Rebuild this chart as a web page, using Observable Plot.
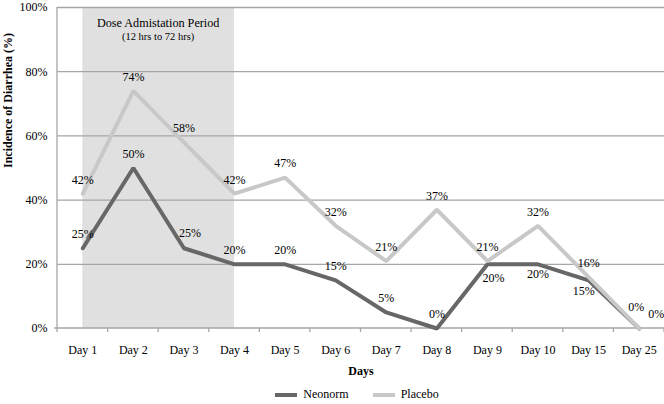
<!DOCTYPE html>
<html><head><meta charset="utf-8">
<script src="https://cdn.jsdelivr.net/npm/d3@7"></script>
<script src="https://cdn.jsdelivr.net/npm/@observablehq/plot@0.6"></script>
<style>
body{margin:0;background:#fff;font-family:"Liberation Serif",serif}
#legend{display:flex;justify-content:center;align-items:center;height:19px;font-size:12px;color:#000;padding-left:50px}
.item{display:flex;align-items:center}
.sw{display:inline-block;width:22px;height:4px;margin-right:6px}
</style></head><body>
<div id="chart"></div><div id="legend"></div>
<script>
const days = ["Day 1","Day 2","Day 3","Day 4","Day 5","Day 6","Day 7","Day 8","Day 9","Day 10","Day 15","Day 25"];
const neonorm = [25,50,25,20,20,15,5,0,20,20,15,0];
const placebo = [42,74,58,42,47,32,21,37,21,32,16,0];
const yTicks = [0,20,40,60,80,100];
const gridValues = [20,40,60,80,100];
const seriesNames = ["Neonorm","Placebo"];
const shadeDays = ["Day 1","Day 4"];
const shadeTitle = "Dose Admistation Period";
const shadeSubtitle = "(12 hrs to 72 hrs)";
const yTitle = "Incidence of Diarrhea (%)";
const xTitle = "Days";

const colors = {Neonorm:"#676767", Placebo:"#c8c8c8"};
const gridColor = "#a6a6a6";
const font = "Liberation Serif";

const rows = days.map((d,i)=>({day:d, i, Neonorm:neonorm[i], Placebo:placebo[i]}));
const shade = shadeDays.map(d=>({day:d, lo:yTicks[0], hi:yTicks[yTicks.length-1]}));

// label placement per series (index -> [dx, dy])
const nOff = i => i===2?[6,-15]: (i===8?[6,14]: i===9?[0,10]: i===10?[-5,11]: i===11?[17,-14]:[0,-14]);
const pOff = i => i===11?[-3,-21]:[0,-14];

function labelMarks(series, off){
  const groups = new Map();
  rows.forEach(r=>{const k=off(r.i).join(","); if(!groups.has(k)) groups.set(k,[]); groups.get(k).push(r);});
  return [...groups].map(([k,arr])=>{
    const [dx,dy]=k.split(",").map(Number);
    return Plot.text(arr,{x:"day",y:series,text:d=>d[series]+"%",dx,dy,fontSize:12,fill:"#000",fontFamily:font});
  });
}

function axisDecor(index, scales, values, dims){
  const x = scales.x, y = scales.y;
  const bw = x.bandwidth ? x.bandwidth() : (dims.width-dims.marginLeft-dims.marginRight)/days.length;
  const g = d3.create("svg:g").attr("stroke", gridColor).attr("stroke-width",1.3);
  const xs = days.map(d=>x(d)).concat([x(days[days.length-1])+bw]);
  const y0 = y(yTicks[0]);
  xs.forEach((px,k)=>{
    g.append("line").attr("x1",px).attr("x2",px).attr("y1",k===0?y(yTicks[yTicks.length-1]):y0).attr("y2",y0+4);
  });
  g.append("line").attr("x1",xs[0]-3).attr("x2",xs[xs.length-1]).attr("y1",y0).attr("y2",y0);
  return g.node();
}

function shadeText(index, scales, values, dims){
  const x = scales.x, y = scales.y;
  const bw = x.bandwidth ? x.bandwidth() : 0;
  const cx = (x(shadeDays[0]) + x(shadeDays[1]))/2 + bw/2;
  const top = y(yTicks[yTicks.length-1]);
  const g = d3.create("svg:g").attr("text-anchor","middle").attr("font-family",font).attr("fill","#000");
  g.append("text").attr("x",cx).attr("y",top+20).attr("font-size",12.2).text(shadeTitle);
  g.append("text").attr("x",cx).attr("y",top+33).attr("font-size",10.5).text(shadeSubtitle);
  return g.node();
}

const chart = Plot.plot({
  width:664, height:385,
  marginLeft:57, marginRight:0, marginTop:7, marginBottom:57,
  style:{fontFamily:font, fontSize:"12px", color:"#000", background:"#fff"},
  x:{type:"band", domain:days, padding:0, round:false, tickSize:0, tickPadding:17, label:null},
  y:{domain:[0,100], ticks:yTicks, tickFormat:d=>d+"%", tickSize:0, tickPadding:10, label:null},
  marks:[
    Plot.areaY(shade,{x:"day", y1:"lo", y2:"hi", fill:"#e0e0e0"}),
    Plot.ruleY(gridValues,{stroke:gridColor, strokeWidth:1.3}),
    axisDecor,
    Plot.line(rows,{x:"day", y:"Neonorm", stroke:colors.Neonorm, strokeWidth:4, strokeLinejoin:"miter"}),
    Plot.line(rows,{x:"day", y:"Placebo", stroke:colors.Placebo, strokeWidth:4, strokeLinejoin:"miter"}),
    ...labelMarks("Neonorm", nOff),
    ...labelMarks("Placebo", pOff),
    shadeText,
    Plot.text([yTitle],{frameAnchor:"left", text:d=>d, rotate:-90, dx:-49, fontWeight:"bold", fontSize:12, fontFamily:font}),
    Plot.text([xTitle],{frameAnchor:"bottom", text:d=>d, dy:46, fontWeight:"bold", fontSize:12, fontFamily:font})
  ]
});
document.getElementById("chart").appendChild(chart);

const legend = d3.select("#legend");
seriesNames.forEach((s,k)=>{
  const it = legend.append("div").attr("class","item").style("margin-left", k? "24px":"0");
  it.append("span").attr("class","sw").style("background",colors[s]);
  it.append("span").text(s);
});
</script></body></html>
